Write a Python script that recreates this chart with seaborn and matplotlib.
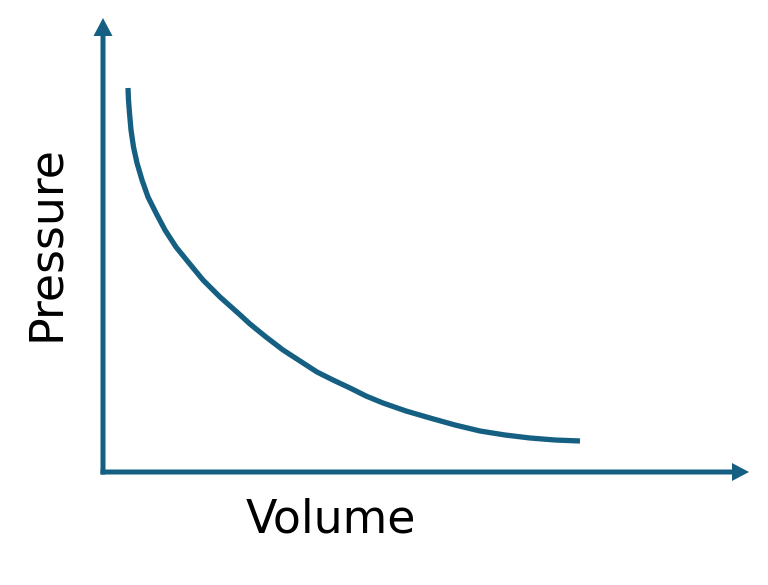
import matplotlib
matplotlib.use("Agg")
import matplotlib.pyplot as plt
import seaborn as sns
import pandas as pd

# Boyle's law sketch: curve (arbitrary units)
volume = [25, 25.5, 26.5, 28, 30.5, 34, 39, 45, 53, 62, 73, 86, 100, 117, 135,
          147, 163, 180, 197, 214, 230, 247, 263, 280, 303, 327, 352, 377, 402,
          427, 452, 477]
pressure = [383, 371, 358, 341, 324, 308, 291, 274, 258, 241, 224, 208, 191,
            174, 158, 147, 134, 121, 110, 99, 91, 83, 75, 68, 60, 53, 46, 40,
            36, 33, 31, 30]

x_label = "Volume"
y_label = "Pressure"

colour = "#156082"

df = pd.DataFrame({"Volume": volume, "Pressure": pressure})

sns.set_style("white")
plt.rcParams["font.family"] = ["DejaVu Sans"]

fig = plt.figure(figsize=(7.68, 5.85), dpi=100)
ax = fig.add_axes([0, 0, 1, 1])

sns.lineplot(data=df, x="Volume", y="Pressure", ax=ax, color=colour,
             linewidth=3.8, solid_capstyle="butt", solid_joinstyle="round",
             sort=False)

# axes drawn as arrows, one data unit = one pixel
ax.arrow(0, -3.5, 0, 456.5, width=5, head_width=19, head_length=18,
         length_includes_head=True, color=colour, linewidth=0)
ax.arrow(-2.5, -1, 648.5, 0, width=5, head_width=18, head_length=17,
         length_includes_head=True, color=colour, linewidth=0)

ax.text(228, -49, x_label, fontsize=33, ha="center", va="center", color="black")
ax.text(-56, 228, y_label, fontsize=33, ha="center", va="center",
        rotation=90, color="black")

ax.set_xlim(-103, 665)
ax.set_ylim(-114, 471)
ax.axis("off")

fig.savefig("out.png", dpi=100)
